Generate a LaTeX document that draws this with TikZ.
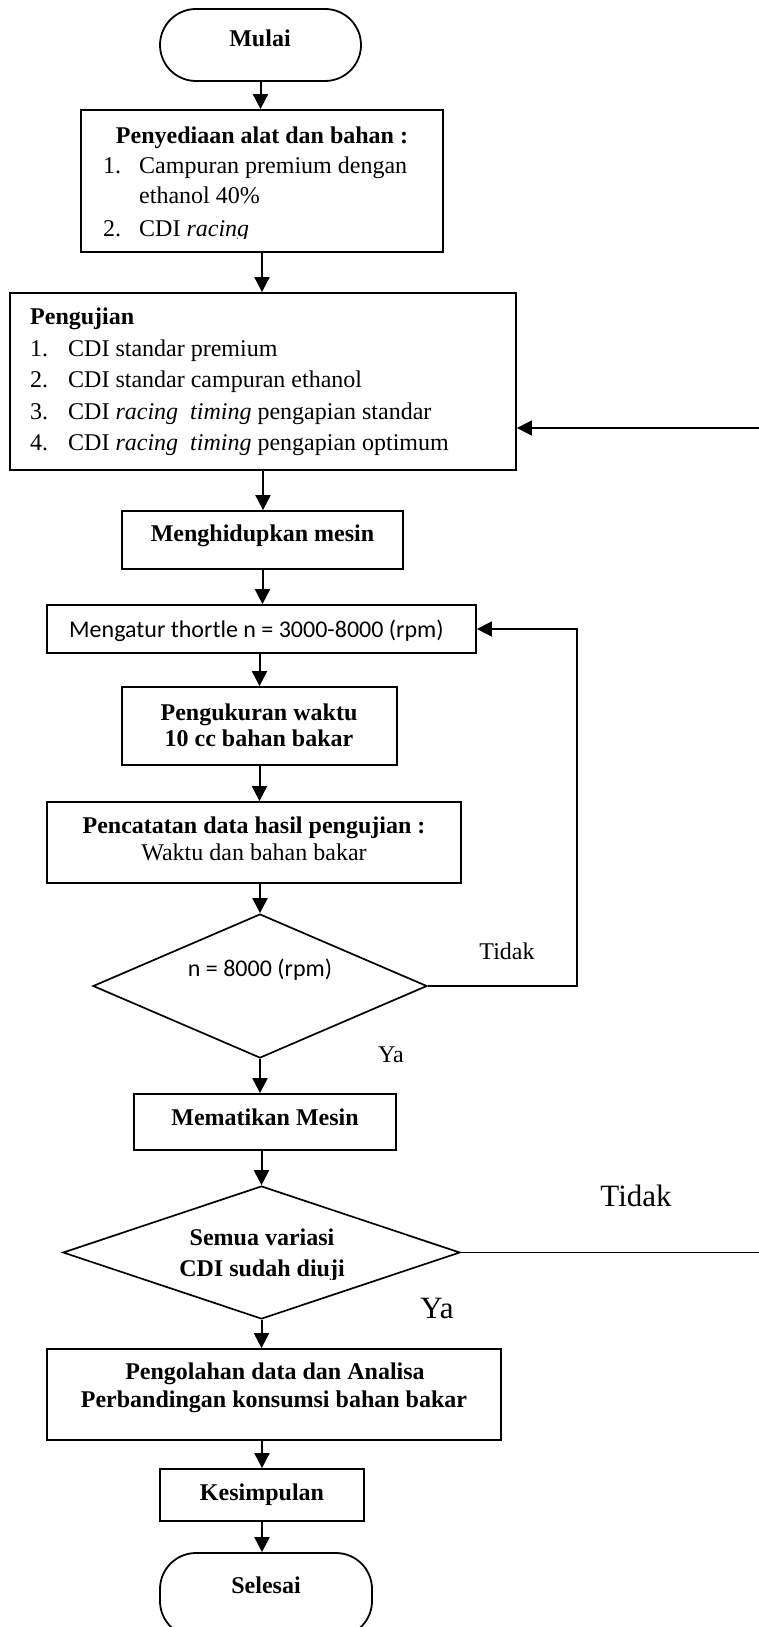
\documentclass[tikz,border=0pt]{standalone}
\usepackage{fontspec}
\setmainfont{Liberation Serif}
\newfontfamily\calfont{Carlito}
\usetikzlibrary{arrows.meta,shapes.geometric}
\begin{document}
\begin{tikzpicture}[x=1pt,y=-1pt,
  box/.style={draw, line width=1.8pt, rectangle, inner sep=0pt},
  term/.style={draw, line width=1.8pt, rectangle, rounded corners=36pt, inner sep=0pt},
  dec/.style={draw, line width=1.7pt, diamond, inner sep=0pt},
  arr/.style={line width=2pt, -{Triangle[length=15pt,width=15pt]}},
  loopline/.style={line width=1.8pt, -{Triangle[length=15pt,width=15pt]}},
  txt/.style={inner sep=0pt, text height=16pt, text depth=5pt, font=\fontsize{24}{28}\selectfont},
  btxt/.style={txt, font=\fontsize{24}{28}\selectfont\bfseries},
  stxt/.style={txt, font=\fontsize{24}{28}\selectfont\calfont},
  bigtxt/.style={inner sep=0pt, text height=21pt, text depth=6pt, font=\fontsize{31}{36}\selectfont}]
\useasboundingbox (0,0) rectangle (759,1627);
\clip (0,0) rectangle (759,1627);

% shapes
\node[term, minimum width=201pt, minimum height=72pt] (mulai) at (260.5,45) {};
\node[box, minimum width=362pt, minimum height=142pt] (b1) at (262,181) {};
\node[box, minimum width=506pt, minimum height=177pt] (b2) at (263,381.5) {};
\node[box, minimum width=281pt, minimum height=58pt] (b3) at (262.5,540) {};
\node[box, minimum width=429pt, minimum height=48pt] (b4) at (261.5,629) {};
\node[box, minimum width=275pt, minimum height=78pt] (b5) at (259.5,726) {};
\node[box, minimum width=414pt, minimum height=81pt] (b6) at (254,842.5) {};
\node[dec, minimum width=334pt, minimum height=144pt] (d1) at (260,986) {};
\node[box, minimum width=262pt, minimum height=56pt] (b7) at (265,1122) {};
\node[dec, minimum width=397pt, minimum height=133pt] (d2) at (261.5,1252.5) {};
\node[box, minimum width=454pt, minimum height=91pt] (b8) at (274,1394.5) {};
\node[box, minimum width=204pt, minimum height=52pt] (b9) at (262,1495) {};
\node[term, minimum width=212pt, minimum height=84pt] (selesai) at (266,1595) {};

% texts
\node[btxt] (tmulai) at (260,41) {Mulai};
\node[btxt] (t1a) at (262,138) {Penyediaan alat dan bahan :};
\node[txt, anchor=west] (t1b) at (103,168) {1.};
\node[txt, anchor=west] (t1c) at (139,168) {Campuran premium dengan};
\node[txt, anchor=west] (t1d) at (139,198) {ethanol 40\%};
\begin{scope}
\clip (0,0) rectangle (759,238);
\node[txt, anchor=west] (t1e) at (103,231) {2.};
\node[txt, anchor=west] (t1f) at (139,231) {CDI \textit{racing}};
\end{scope}

\node[btxt, anchor=west] (t2a) at (30,319) {Pengujian};
\node[txt, anchor=west] (t2n1) at (30,351) {1.};
\node[txt, anchor=west] (t2n2) at (30,382) {2.};
\node[txt, anchor=west] (t2n3) at (30,414) {3.};
\node[txt, anchor=west] (t2n4) at (30,445) {4.};
\node[txt, anchor=west] (t2i1) at (68,351) {CDI standar premium};
\node[txt, anchor=west] (t2i2) at (68,382) {CDI standar campuran ethanol};
\node[txt, anchor=west] (t2i3) at (68,414) {CDI \textit{racing}\ \ \textit{timing} pengapian standar};
\node[txt, anchor=west] (t2i4) at (68,445) {CDI \textit{racing}\ \ \textit{timing} pengapian optimum};

\node[btxt] (t3) at (262.5,536) {Menghidupkan mesin};
\node[stxt, anchor=west] (t4) at (69,632) {Mengatur thortle n = 3000-8000 (rpm)};
\node[btxt] (t5a) at (259,715) {Pengukuran waktu};
\node[btxt] (t5b) at (259,741) {10 cc bahan bakar};
\node[btxt] (t6a) at (254,828) {Pencatatan data hasil pengujian :};
\node[txt] (t6b) at (254,855) {Waktu dan bahan bakar};
\node[stxt] (td1) at (260,971) {n = 8000 (rpm)};
\node[txt] (tidak1) at (507,954) {Tidak};
\node[txt] (ya1) at (391,1057) {Ya};
\node[btxt] (t7) at (265,1120) {Mematikan Mesin};
\node[btxt] (td2a) at (262,1240) {Semua variasi};
\begin{scope}
\clip (0,0) rectangle (759,1279);
\node[btxt] (td2b) at (262,1271) {CDI sudah diuji};
\end{scope}
\node[bigtxt] (tidak2) at (636,1199) {Tidak};
\node[bigtxt] (ya2) at (437,1311) {Ya};
\node[btxt] (t8a) at (275,1374) {Pengolahan data dan Analisa};
\node[btxt] (t8b) at (274,1402) {Perbandingan konsumsi bahan bakar};
\node[btxt] (t9) at (262,1495) {Kesimpulan};
\node[btxt] (tsel) at (266,1588) {Selesai};

% connectors
\draw[arr] (mulai.south) -- (mulai.south |- b1.north);
\draw[arr] (b1.south) -- (b1.south |- b2.north);
\draw[arr] (b2.south) -- (b2.south |- b3.north);
\draw[arr] (b3.south) -- (b3.south |- b4.north);
\draw[arr] (b5.north |- b4.south) -- (b5.north);
\draw[arr] (b5.south) -- (b5.south |- b6.north);
\draw[arr] (d1.north |- b6.south) -- (d1.north);
\draw[arr] (d1.south) -- (d1.south |- b7.north);
\draw[arr] (d2.north |- b7.south) -- (d2.north);
\draw[arr] (d2.south) -- (d2.south |- b8.north);
\draw[arr] (b9.north |- b8.south) -- (b9.north);
\draw[arr] (b9.south) -- (b9.south |- selesai.north);

\coordinate (l1) at (577,629);
\draw[loopline] (d1.east) -| (l1) -- (b4.east);
\coordinate (l2) at (775,428);
\draw[loopline] (d2.east) -| (l2) -- (b2.east |- l2);
\end{tikzpicture}
\end{document}
